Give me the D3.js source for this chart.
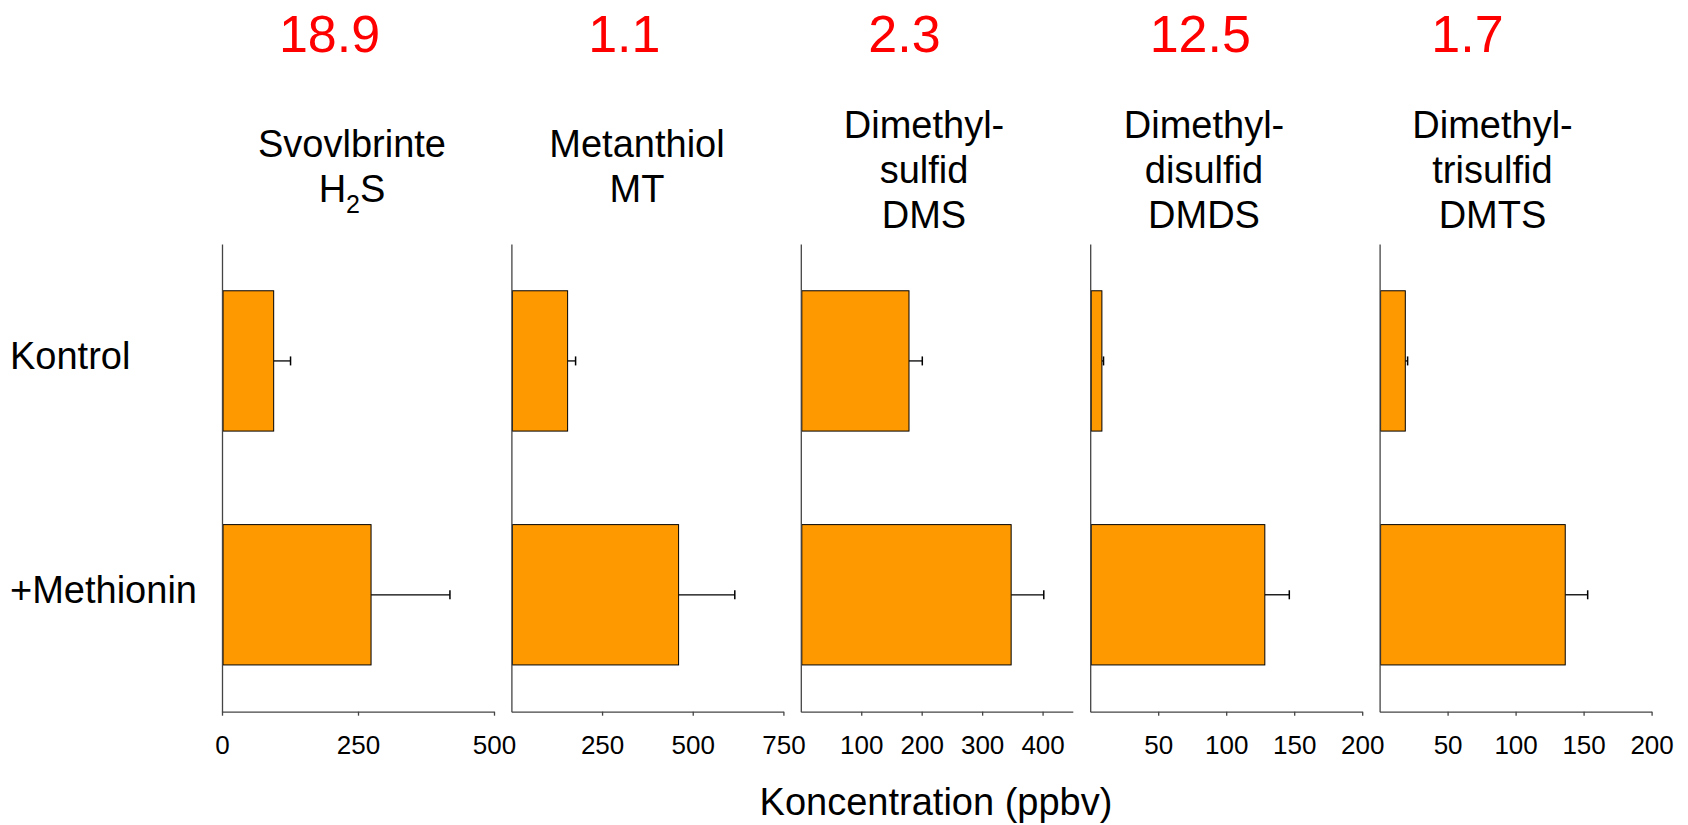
<!DOCTYPE html>
<html>
<head>
<meta charset="utf-8">
<script src="https://cdn.jsdelivr.net/npm/d3@7"></script>
<style>
  html, body { margin: 0; padding: 0; background: #fff; }
  svg { display: block; font-family: "Liberation Sans", Arial, sans-serif; }
</style>
</head>
<body>
<svg id="chart" width="1688" height="825"></svg>
<script>
// Treatment groups (one bar per group in every panel)
const categories = ["Kontrol", "+Methionin"];

// Panel headings: compound name lines, last line is the abbreviation
const compoundNames = [
  ["Svovlbrinte", "H2S"],
  ["Metanthiol", "MT"],
  ["Dimethyl-", "sulfid", "DMS"],
  ["Dimethyl-", "disulfid", "DMDS"],
  ["Dimethyl-", "trisulfid", "DMTS"]
];

// Red figures shown above each compound
const foldLabels = ["18.9", "1.1", "2.3", "12.5", "1.7"];

// Mean concentration (ppbv) and error per compound
const kontrolMean = [95, 155, 179, 8.6, 18.9];
const kontrolErr  = [31, 22, 22, 1.2, 1.7];
const methMean    = [274, 461, 348, 128.4, 136.5];
const methErr     = [145, 155, 54, 18, 16.5];

// Axis extents and tick values per panel
const axisMax = [500, 750, 450, 200, 200];
const tickValues = [
  [0, 250, 500],
  [250, 500, 750],
  [100, 200, 300, 400],
  [50, 100, 150, 200],
  [50, 100, 150, 200]
];

const axisTitle = "Koncentration (ppbv)";

// ---- layout ----
const svg = d3.select("#chart");
const panelLeft0 = 222, panelStep = 289.4, panelWidth = 272;
const plotTop = 244, plotBottom = 711.7;
const headerDx = [130, 125.6, 123.2, 113.8, 112.9];   // heading centre from panel left
const foldDx   = [107.5, 112.9, 103.7, 110.1, 87.9];   // red figure centre from panel left

const barFill = "#FF9900";
const axisColor = "#444";

const y = d3.scaleBand()
  .domain(categories)
  .range([plotTop, plotBottom])
  .paddingInner(0.4)
  .paddingOuter(0.2);

// Category labels on the left
svg.append("g").selectAll("text")
  .data(categories)
  .join("text")
  .attr("x", 10)
  .attr("y", d => y(d) + y.bandwidth() / 2 + 8)
  .attr("font-size", 38)
  .attr("fill", "#000")
  .text(d => d);

compoundNames.forEach((lines, i) => {
  const left = panelLeft0 + i * panelStep;
  const x = d3.scaleLinear().domain([0, axisMax[i]]).range([left, left + panelWidth]);
  const g = svg.append("g");

  const rows = [
    { cat: categories[0], mean: kontrolMean[i], err: kontrolErr[i] },
    { cat: categories[1], mean: methMean[i], err: methErr[i] }
  ];

  // error bars (drawn first so the bar outline sits over the stem start)
  rows.forEach(r => {
    const cy = y(r.cat) + y.bandwidth() / 2;
    g.append("line")
      .attr("x1", x(r.mean)).attr("x2", x(r.mean + r.err))
      .attr("y1", cy).attr("y2", cy)
      .attr("stroke", "#000").attr("stroke-width", 1.3);
    g.append("line")
      .attr("x1", x(r.mean + r.err)).attr("x2", x(r.mean + r.err))
      .attr("y1", cy - 4.5).attr("y2", cy + 4.5)
      .attr("stroke", "#000").attr("stroke-width", 1.5);
  });

  // bars
  g.selectAll("rect")
    .data(rows)
    .join("rect")
    .attr("x", x(0) + 1)
    .attr("y", d => y(d.cat))
    .attr("width", d => x(d.mean) - x(0) - 1)
    .attr("height", y.bandwidth())
    .attr("fill", barFill)
    .attr("stroke", "#000")
    .attr("stroke-width", 1);

  // vertical axis line
  const yAxis = g.append("g")
    .attr("transform", `translate(${left},0)`)
    .call(d3.axisLeft(y).tickValues([]).tickSizeOuter(0));
  yAxis.select(".domain").attr("stroke", axisColor).attr("stroke-width", 1.3);

  // horizontal axis
  const xAxis = g.append("g")
    .attr("transform", `translate(0,${plotBottom})`)
    .call(d3.axisBottom(x).tickValues(tickValues[i]).tickSize(4).tickSizeOuter(0).tickPadding(20));
  xAxis.select(".domain").attr("stroke", axisColor).attr("stroke-width", 1.3);
  xAxis.selectAll(".tick line").attr("stroke", axisColor).attr("stroke-width", 1.3);
  xAxis.selectAll(".tick text")
    .attr("font-size", 26)
    .attr("font-family", "Liberation Sans, Arial, sans-serif")
    .attr("fill", "#000");

  // red figure
  svg.append("text")
    .attr("x", left + foldDx[i])
    .attr("y", 52)
    .attr("text-anchor", "middle")
    .attr("font-size", 52)
    .attr("fill", "#FF0000")
    .text(foldLabels[i]);

  // heading lines
  const lineH = 45;
  const firstBase = lines.length === 3 ? 138 : 157;
  lines.forEach((ln, k) => {
    const t = svg.append("text")
      .attr("x", left + headerDx[i])
      .attr("y", firstBase + k * lineH)
      .attr("text-anchor", "middle")
      .attr("font-size", 38)
      .attr("fill", "#000");
    if (ln === "H2S") {
      t.append("tspan").text("H");
      t.append("tspan").attr("font-size", 25).attr("dy", 11).text("2");
      t.append("tspan").attr("dy", -11).text("S");
    } else {
      t.text(ln);
    }
  });
});

// shared axis title
svg.append("text")
  .attr("x", 936)
  .attr("y", 815)
  .attr("text-anchor", "middle")
  .attr("font-size", 38)
  .attr("fill", "#000")
  .text(axisTitle);
</script>
</body>
</html>
